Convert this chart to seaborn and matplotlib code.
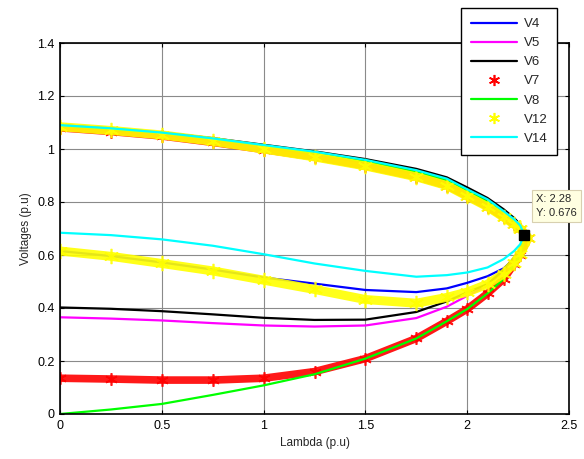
import numpy as np
import pandas as pd
import matplotlib
matplotlib.use("Agg")
import matplotlib.pyplot as plt
import seaborn as sns
from matplotlib.lines import Line2D

# ---- data ----
lam_up = [0, 0.25, 0.5, 0.75, 1.0, 1.25, 1.5, 1.75, 1.9, 2.0, 2.1, 2.18, 2.23, 2.26]
lam_low = [2.26, 2.23, 2.18, 2.1, 2.0, 1.9, 1.75, 1.5, 1.25, 1.0, 0.75, 0.5, 0.25, 0]

buses = ["V4", "V5", "V6", "V7", "V8", "V12", "V14"]

v4_up = [1.087, 1.074, 1.058, 1.036, 1.011, 0.985, 0.953, 0.913, 0.882, 0.842, 0.802, 0.760, 0.730, 0.708]
v5_up = [1.085, 1.072, 1.055, 1.032, 1.007, 0.980, 0.947, 0.906, 0.874, 0.835, 0.795, 0.753, 0.724, 0.705]
v6_up = [1.090, 1.078, 1.062, 1.041, 1.016, 0.991, 0.962, 0.925, 0.893, 0.855, 0.815, 0.772, 0.740, 0.715]
v7_up = [1.080, 1.066, 1.049, 1.025, 0.998, 0.970, 0.936, 0.895, 0.862, 0.822, 0.782, 0.742, 0.716, 0.700]
v8_up = [1.088, 1.075, 1.059, 1.037, 1.012, 0.985, 0.953, 0.913, 0.882, 0.842, 0.800, 0.758, 0.728, 0.706]
v12_up = [1.084, 1.070, 1.053, 1.029, 1.000, 0.970, 0.936, 0.895, 0.862, 0.822, 0.782, 0.742, 0.716, 0.700]
v14_up = [1.090, 1.078, 1.062, 1.040, 1.015, 0.990, 0.959, 0.920, 0.888, 0.848, 0.810, 0.765, 0.735, 0.712]

v4_low = [0.620, 0.585, 0.550, 0.520, 0.495, 0.474, 0.460, 0.468, 0.492, 0.515, 0.545, 0.572, 0.596, 0.615]
v5_low = [0.615, 0.585, 0.540, 0.485, 0.446, 0.405, 0.362, 0.334, 0.330, 0.334, 0.343, 0.353, 0.360, 0.365]
v6_low = [0.620, 0.590, 0.545, 0.490, 0.459, 0.425, 0.385, 0.356, 0.355, 0.363, 0.376, 0.388, 0.397, 0.402]
v7_low = [0.600, 0.565, 0.510, 0.455, 0.396, 0.350, 0.285, 0.209, 0.160, 0.135, 0.128, 0.128, 0.132, 0.135]
v8_low = [0.600, 0.565, 0.510, 0.455, 0.396, 0.350, 0.285, 0.209, 0.150, 0.108, 0.072, 0.038, 0.017, 0.000]
v12_low = [0.605, 0.570, 0.530, 0.490, 0.460, 0.440, 0.418, 0.432, 0.470, 0.505, 0.540, 0.568, 0.595, 0.615]
v14_low = [0.640, 0.615, 0.585, 0.553, 0.534, 0.524, 0.518, 0.540, 0.568, 0.603, 0.635, 0.659, 0.675, 0.684]

nose_lam = [2.28, 2.285, 2.28, 2.30, 2.285, 2.30, 2.28]
nose_v = [0.675, 0.672, 0.680, 0.665, 0.670, 0.665, 0.676]

tip_x, tip_y = 2.28, 0.676

ups = [v4_up, v5_up, v6_up, v7_up, v8_up, v12_up, v14_up]
lows = [v4_low, v5_low, v6_low, v7_low, v8_low, v12_low, v14_low]
colors = ["#0000ff", "#ff00ff", "#000000", "#ff0000", "#00ff00", "#ffff00", "#00ffff"]
marked = {"V7", "V12"}

# ---- figure ----
sns.set_style("white")
plt.rcParams["font.family"] = ["Liberation Sans", "DejaVu Sans"]
plt.rcParams["font.size"] = 8.5

W, H = 584, 459
fig = plt.figure(figsize=(W / 100, H / 100), dpi=100)
ax = fig.add_axes([60 / W, 1 - 414 / H, 509 / W, 371 / H])

for i, b in enumerate(buses):
    lam = lam_up + [nose_lam[i]] + lam_low
    v = ups[i] + [nose_v[i]] + lows[i]
    df = pd.DataFrame({"lam": lam, "v": v})
    if b in marked:
        sns.lineplot(data=df, x="lam", y="v", sort=False, estimator=None,
                     color=colors[i], lw=6.5 if b == "V12" else 5.5, ax=ax, alpha=0.9,
                     marker=(6, 2, 0), markersize=11 if b == "V12" else 9,
                     markeredgecolor=colors[i], markeredgewidth=1.2)
    else:
        sns.lineplot(data=df, x="lam", y="v", sort=False, estimator=None,
                     color=colors[i], lw=1.6, ax=ax)

# data tip
ax.plot([tip_x], [tip_y], marker="s", color="black", markersize=7, zorder=10)
fig.text(536 / W, 1 - 206 / H, f"X: {tip_x}\nY: {tip_y}", fontsize=8, va="center", ha="left",
         linespacing=1.5,
         bbox=dict(boxstyle="square,pad=0.35", facecolor="#ffffe1", edgecolor="#d8d0b0", lw=0.8))

ax.set_xlim(0, 2.5)
ax.set_ylim(0, 1.4)
ax.set_xticks([0, 0.5, 1, 1.5, 2, 2.5])
ax.set_xticklabels(["0", "0.5", "1", "1.5", "2", "2.5"])
ax.set_yticks([0, 0.2, 0.4, 0.6, 0.8, 1.0, 1.2, 1.4])
ax.set_yticklabels(["0", "0.2", "0.4", "0.6", "0.8", "1", "1.2", "1.4"])
ax.grid(True, color="#8a8a8a", lw=0.8)
ax.set_axisbelow(True)
ax.tick_params(direction="in", length=3, width=0.8, top=True, right=True,
               bottom=True, left=True, labelsize=9, colors="black", pad=4)
for s in ax.spines.values():
    s.set_visible(True)
    s.set_color("black")
    s.set_linewidth(1.2)
ax.set_xlabel("Lambda (p.u)", fontsize=8.5, labelpad=4)
ax.set_ylabel("Voltages (p.u)", fontsize=8.5, labelpad=4)

handles = []
for i, b in enumerate(buses):
    if b in marked:
        handles.append(Line2D([], [], color=colors[i], ls="none", marker=(6, 2, 0),
                              markersize=8, markeredgewidth=1.2, markeredgecolor=colors[i]))
    else:
        handles.append(Line2D([], [], color=colors[i], lw=1.6))
leg = fig.legend(handles, buses, loc="upper left", bbox_to_anchor=(461 / W, 1 - 8 / H),
                 fontsize=9.5, frameon=True, fancybox=False, handlelength=3.5,
                 labelspacing=0.52, borderpad=0.75, handletextpad=0.5, borderaxespad=0)
leg.get_frame().set_edgecolor("black")
leg.get_frame().set_linewidth(1.0)
leg.get_frame().set_alpha(1)

fig.savefig("out.png", dpi=100)
